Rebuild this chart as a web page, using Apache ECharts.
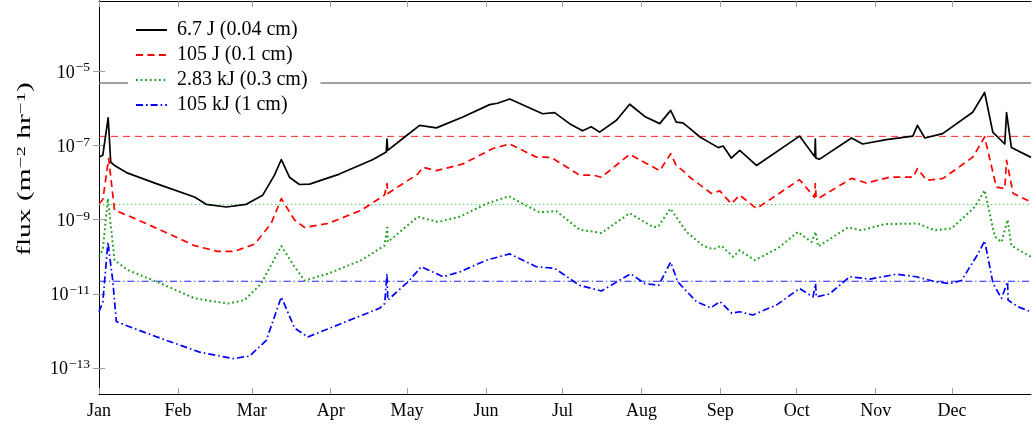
<!DOCTYPE html>
<html><head><meta charset="utf-8">
<script src="https://cdn.jsdelivr.net/npm/echarts@6/dist/echarts.min.js"></script>
<style>html,body{margin:0;padding:0;background:#fff}#c{width:1032px;height:426px}</style>
</head><body><div id="c"></div>
<script>
// month tick positions (day of year, leap year) and labels
const monthStarts = [0, 31, 60, 91, 121, 152, 182, 213, 244, 274, 305, 335];
const monthLabels = ['Jan','Feb','Mar','Apr','May','Jun','Jul','Aug','Sep','Oct','Nov','Dec'];
const yTickValues = [1e-13, 1e-11, 1e-9, 1e-7, 1e-5];
const seriesNames = ['6.7 J (0.04 cm)', '105 J (0.1 cm)', '2.83 kJ (0.3 cm)', '105 kJ (1 cm)'];
// horizontal reference levels
const refGrey = 4.85e-6;
const refRed = 1.77e-7;
const refGreen = 2.57e-9;
const refBlue = 2.2e-11;
const xSpan = [0, 366];

// [day of year, flux]
const blackData = [[0,4.9e-8],[1.5,5.5e-8],[3.6,5.6e-7],[4.6,3.6e-8],[6.1,2.9e-8],[11.3,1.8e-8],[22.5,9.4e-9],[37.5,4.1e-9],[42.1,2.6e-9],[50,2.2e-9],[57.8,2.6e-9],[64.3,4.6e-9],[68.9,1.6e-8],[71.6,4.2e-8],[74.8,1.4e-8],[78.7,8.9e-9],[82.7,9.1e-9],[94.4,1.7e-8],[107.6,4.2e-8],[112.8,6.7e-8],[113.1,1.5e-7],[113.4,7.4e-8],[119.3,1.55e-7],[125.9,3.5e-7],[132.5,3.0e-7],[142.9,5.9e-7],[153.4,1.27e-6],[156.5,1.38e-6],[161.3,1.8e-6],[174.2,7.2e-7],[178.9,7.7e-7],[184.8,3.9e-7],[189.9,2.5e-7],[193.3,3.2e-7],[196.6,2.3e-7],[203.2,4.8e-7],[208.4,1.3e-6],[214.3,6.1e-7],[220.2,3.9e-7],[224.5,8.9e-7],[226.7,4.3e-7],[229.3,4.1e-7],[232,2.9e-7],[236,1.7e-7],[243.2,8.8e-8],[245.1,9.7e-8],[248.3,4.6e-8],[251.6,7.4e-8],[258.2,2.9e-8],[275.1,1.8e-7],[281.1,5.0e-8],[281.3,1.5e-7],[281.5,4.6e-8],[283,4.3e-8],[295.5,1.6e-7],[299.9,1.1e-7],[309.2,1.45e-7],[319.6,1.8e-7],[321.4,3.5e-7],[324.3,1.6e-7],[331.3,2.1e-7],[343.1,7.9e-7],[347.8,2.7e-6],[351,2.3e-7],[355.7,1.1e-7],[356.4,7.7e-7],[358.3,8.8e-8],[366,4.8e-8]];
const redData = [[0,2.7e-9],[1.5,3.5e-9],[3.8,4.5e-8],[6.1,1.8e-9],[11.3,1.3e-9],[24.4,5.2e-10],[37.5,2.0e-10],[46.6,1.4e-10],[53.2,1.4e-10],[61.1,2.2e-10],[67.6,7.9e-10],[71.6,3.7e-9],[76.8,9.8e-10],[80.7,6.2e-10],[89.9,7.9e-10],[103,1.8e-9],[112.1,4.6e-9],[113.1,9.4e-9],[113.4,5.1e-9],[125.2,1.7e-8],[127.2,2.6e-8],[132.5,2.1e-8],[142.9,3.2e-8],[154.7,8.3e-8],[161.3,1.1e-7],[171.7,4.9e-8],[177.6,4.8e-8],[188.7,1.6e-8],[194,1.6e-8],[197.3,1.4e-8],[208.4,5.8e-8],[220.2,2.1e-8],[224.5,6.0e-8],[226.7,2.9e-8],[229.3,2.1e-8],[232,1.4e-8],[240.5,5.1e-9],[243.8,6.0e-9],[248.3,2.7e-9],[251.6,4.6e-9],[258.2,2.0e-9],[275.1,1.2e-8],[281,4.0e-9],[281.3,9.4e-9],[281.6,4.0e-9],[282.4,3.7e-9],[295.5,1.3e-8],[301.4,9.8e-9],[310.5,1.4e-8],[319.7,1.4e-8],[321.4,2.4e-8],[325,1.15e-8],[331.5,1.3e-8],[343.2,4.9e-8],[347.8,1.7e-7],[352.4,7.6e-9],[355.7,6.9e-9],[356.4,4.0e-8],[359,5.1e-9],[366,3.0e-9]];
const greenData = [[0,1.0e-10],[1.5,1.6e-10],[3.5,3.7e-9],[6.1,8.1e-11],[11.3,4.4e-11],[24.4,1.9e-11],[37.5,7.6e-12],[50.6,5.5e-12],[57.2,6.8e-12],[63.7,1.9e-11],[71.6,1.95e-10],[76.8,5.4e-11],[80.7,2.3e-11],[89.9,3.5e-11],[103,8.1e-11],[112.1,2.0e-10],[113.2,6.2e-10],[113.4,2.5e-10],[125.2,1.2e-9],[133.1,8.7e-10],[141.6,1.2e-9],[152.1,2.7e-9],[161,4.3e-9],[167.8,2.4e-9],[173,1.6e-9],[179.6,1.7e-9],[188.7,5.4e-10],[197.3,4.4e-10],[208.4,1.5e-9],[217.5,6.4e-10],[219.5,6.4e-10],[224.4,2.0e-9],[230.7,4.7e-10],[237.2,2.0e-10],[241.1,1.6e-10],[244.4,2.0e-10],[249,1.0e-10],[251.6,1.5e-10],[257.5,8.1e-11],[266.6,1.7e-10],[274.5,4.7e-10],[279.8,2.5e-10],[281.4,4.7e-10],[282.4,1.9e-10],[294.1,6.2e-10],[299.4,5.2e-10],[308.6,7.6e-10],[321.6,7.9e-10],[328.2,5.2e-10],[334.8,5.8e-10],[343.9,2.2e-9],[347.8,6.2e-9],[351.8,3.5e-10],[354.4,2.5e-10],[356.8,1.0e-9],[358.3,2.0e-10],[364.9,1.1e-10],[366,1.0e-10]];
const blueData = [[0,3.3e-12],[1.5,6e-12],[3.5,2.5e-10],[5.4,2.3e-11],[6.8,1.8e-12],[13.3,1.2e-12],[26.4,5.6e-13],[39.5,2.7e-13],[52.6,1.8e-13],[59.1,2.1e-13],[65.7,5.6e-13],[71.6,8.3e-12],[76.8,1.2e-12],[82,6.9e-13],[97.1,1.8e-12],[110.2,4.1e-12],[112.2,5.5e-12],[113.1,3.5e-11],[113.4,6.8e-12],[121.3,2.1e-11],[126.6,5.4e-11],[135.1,2.9e-11],[141.6,3.9e-11],[152.1,8.1e-11],[161.3,1.2e-10],[171.7,5.4e-11],[178.9,4.9e-11],[188.7,1.7e-11],[197.3,1.2e-11],[208.8,3.5e-11],[214.3,1.9e-11],[219.8,1.7e-11],[224.5,7.2e-11],[227.3,2.1e-11],[234.6,6.2e-12],[240.2,4.2e-12],[243.9,6.2e-12],[248.5,3.0e-12],[251.6,3.3e-12],[256.8,2.7e-12],[266,5.0e-12],[275.1,1.4e-11],[280.4,8.3e-12],[281.4,1.9e-11],[281.7,8.3e-12],[286.9,1.0e-11],[294.8,2.9e-11],[302.7,2.5e-11],[313.2,3.4e-11],[321,2.9e-11],[328.9,2.1e-11],[334.1,1.9e-11],[338.7,2.3e-11],[345.2,1.2e-10],[347.8,2.7e-10],[351.1,1.9e-11],[354.4,7.6e-12],[356.8,2.1e-11],[357,6.8e-12],[360.9,4.5e-12],[366,3.3e-12]];

const FONT = 'Liberation Serif';
const TICKC = '#a0a0a0';
const chart = echarts.init(document.getElementById('c'), null, {renderer: 'canvas'});

function supLabel(v) {
  const e = Math.round(Math.log10(v));
  return '{b|10}{s|' + (e < 0 ? '\u2212' : '') + Math.abs(e) + '}';
}
function line(name, data, color, type, width, z) {
  return {
    name: name, type: 'line', data: data, symbol: 'none', showSymbol: false,
    animation: false, z: z || 3,
    lineStyle: {color: color, type: type, width: width, cap: 'butt', join: 'round'},
    itemStyle: {color: color},
    emphasis: {disabled: true}
  };
}
function refLine(name, v, color, type, width) {
  const s = line(name, [[xSpan[0], v], [xSpan[1], v]], color, type, width, 2);
  s.silent = true;
  return s;
}
const yMin = 2.0e-14, yMax = 7.9e-4;

const option = {
  animation: false,
  grid: {left: 99, right: 1, top: 1, bottom: 32},
  legend: {
    left: 128, top: 16, orient: 'vertical', z: 10,
    backgroundColor: '#fff',
    padding: [4, 13, 5, 7],
    itemWidth: 31, itemHeight: 14, itemGap: 5,
    itemStyle: {opacity: 0},
    textStyle: {fontFamily: FONT, fontSize: 20, color: '#000', lineHeight: 20, padding: [0, 0, 0, 5]},
    data: seriesNames
  },
  xAxis: [{
    type: 'value', min: 0, max: 366, position: 'bottom',
    axisLine: {show: true, onZero: false, lineStyle: {color: '#000', width: 1}},
    axisTick: {show: true, inside: true, length: 6, customValues: monthStarts, lineStyle: {color: TICKC}},
    axisLabel: {customValues: monthStarts, margin: 8, fontFamily: FONT, fontSize: 18, color: '#000',
      formatter: v => monthLabels[monthStarts.indexOf(Math.round(v))] || ''},
    splitLine: {show: false}
  }, {
    type: 'value', min: 0, max: 366, position: 'top',
    axisLine: {show: true, onZero: false, lineStyle: {color: '#000', width: 1}},
    axisTick: {show: true, inside: true, length: 6, customValues: monthStarts, lineStyle: {color: TICKC}},
    axisLabel: {show: false},
    splitLine: {show: false}
  }],
  yAxis: [{
    type: 'log', min: yMin, max: yMax, position: 'left',
    axisLine: {show: true, lineStyle: {color: '#000', width: 1}},
    axisTick: {show: true, inside: true, length: 6, customValues: yTickValues, lineStyle: {color: TICKC}},
    axisLabel: {customValues: yTickValues, margin: 9, formatter: supLabel, color: '#000',
      rich: {
        b: {fontFamily: FONT, fontSize: 18, color: '#000', verticalAlign: 'bottom'},
        s: {fontFamily: FONT, fontSize: 13.5, color: '#000', verticalAlign: 'bottom', padding: [0, 0, 7, 1]}
      }},
    splitLine: {show: false}
  }, {
    type: 'log', min: yMin, max: yMax, position: 'right',
    axisLine: {show: true, lineStyle: {color: '#000', width: 1}},
    axisTick: {show: true, inside: true, length: 6, customValues: yTickValues, lineStyle: {color: TICKC}},
    axisLabel: {show: false},
    splitLine: {show: false}
  }],
  graphic: [{
    type: 'text', z: 10,
    x: 25, y: 169, rotation: Math.PI / 2, scaleX: 1.55,
    style: {
      text: 'flux (m{s|\u22122} hr{s|\u22121})',
      font: '19px "Liberation Serif"', fill: '#000', align: 'center', verticalAlign: 'middle',
      rich: {
        s: {fontFamily: FONT, fontSize: 13.5, fill: '#000', verticalAlign: 'bottom', padding: [0, 0, 7, 0]}
      }
    }
  }],
  series: [
    line(seriesNames[0], blackData, '#000000', 'solid', 1.7),
    line(seriesNames[1], redData, '#ff0000', [7, 4.5], 1.7),
    line(seriesNames[2], greenData, '#1f9f1f', [1.8, 2.8], 2),
    line(seriesNames[3], blueData, '#0000ff', [7, 3, 1.6, 3], 1.7),
    refLine('ref0', refGrey, '#808080', 'solid', 1.5),
    refLine('ref1', refRed, '#ff2020', [7, 5], 1),
    refLine('ref2', refGreen, '#4ccc4c', [1.3, 2.7], 1.2),
    refLine('ref3', refBlue, '#2020ff', [7, 3, 1.2, 3], 1.1)
  ]
};
chart.setOption(option);
</script></body></html>
